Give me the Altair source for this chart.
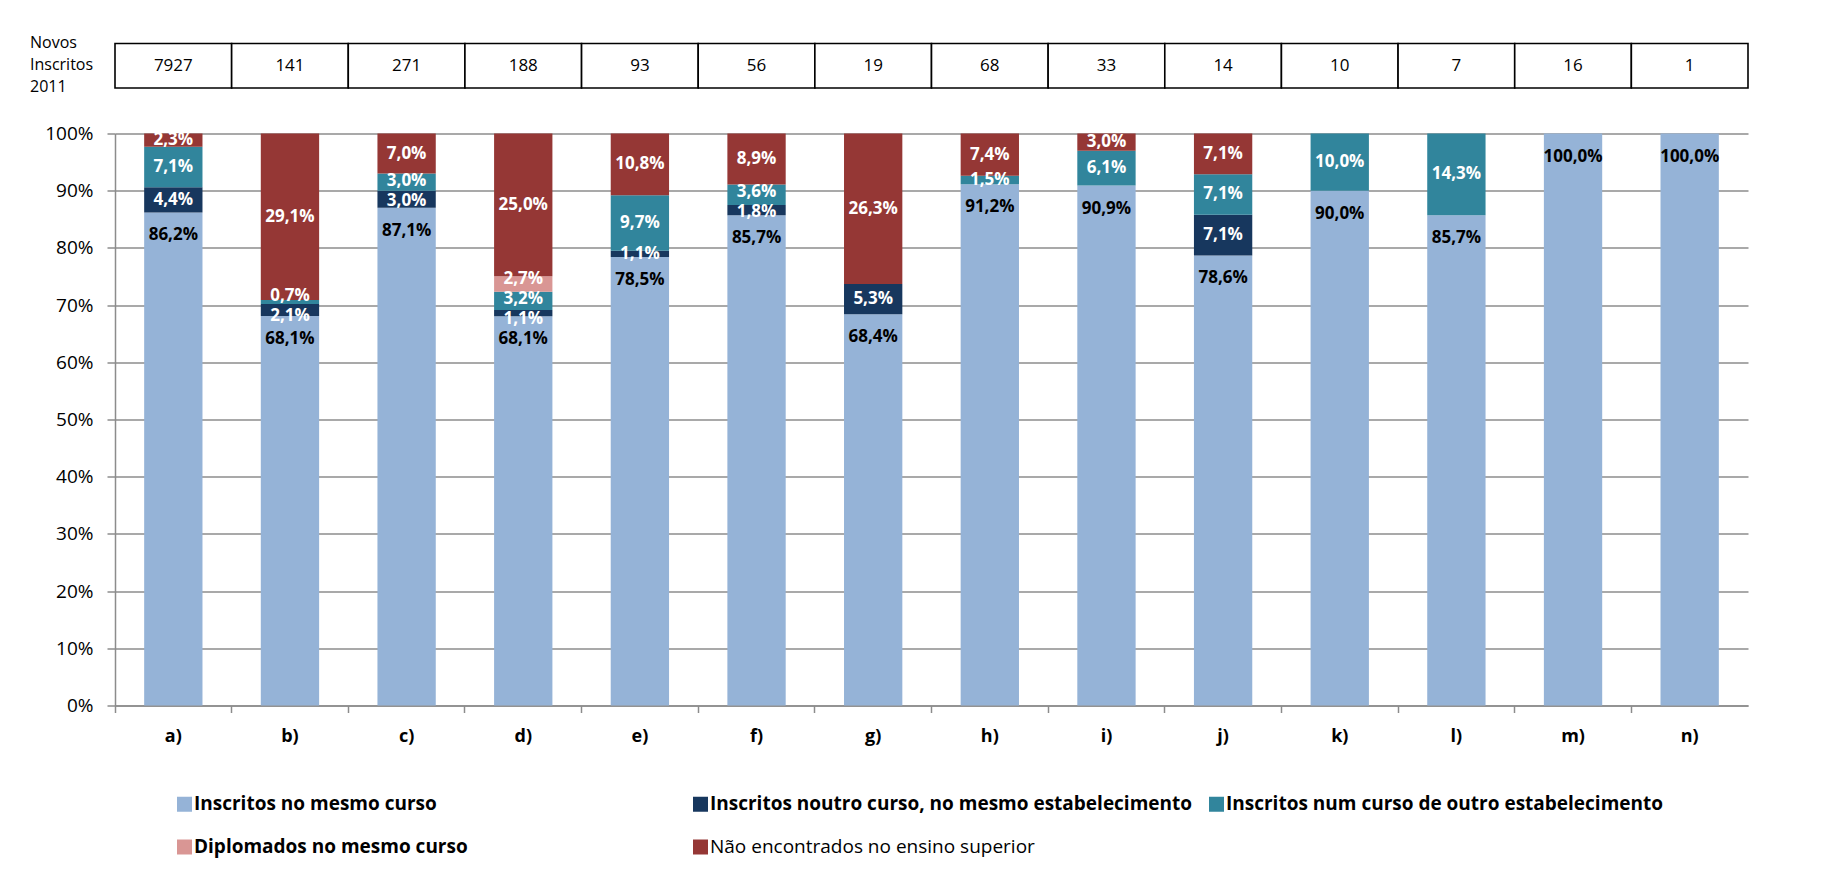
import altair as alt
import pandas as pd

categories = ["a)", "b)", "c)", "d)", "e)", "f)", "g)", "h)", "i)", "j)", "k)", "l)", "m)", "n)"]
novos_inscritos = [7927, 141, 271, 188, 93, 56, 19, 68, 33, 14, 10, 7, 16, 1]

series_names = [
    "Inscritos no mesmo curso",
    "Inscritos noutro curso, no mesmo estabelecimento",
    "Inscritos num curso de outro estabelecimento",
    "Diplomados no mesmo curso",
    "Não encontrados no ensino superior",
]
mesmo_curso = [86.2, 68.1, 87.1, 68.1, 78.5, 85.7, 68.4, 91.2, 90.9, 78.6, 90.0, 85.7, 100.0, 100.0]
noutro_curso = [4.4, 2.1, 3.0, 1.1, 1.1, 1.8, 5.3, 0, 0, 7.1, 0, 0, 0, 0]
outro_estab = [7.1, 0.7, 3.0, 3.2, 9.7, 3.6, 0, 1.5, 6.1, 7.1, 10.0, 14.3, 0, 0]
diplomados = [0, 0, 0, 2.7, 0, 0, 0, 0, 0, 0, 0, 0, 0, 0]
nao_encontrados = [2.3, 29.1, 7.0, 25.0, 10.8, 8.9, 26.3, 7.4, 3.0, 7.1, 0, 0, 0, 0]
series_values = [mesmo_curso, noutro_curso, outro_estab, diplomados, nao_encontrados]
colors = ["#95B3D7", "#17375E", "#31859C", "#D99694", "#953735"]

FONT = "Open Sans"
GRID = "#8C8C8C"
LABEL_GAP = 0.035  # minimum vertical distance between stacked segment labels (fraction of axis)


def fmt(v):
    return f"{v:.1f}".replace(".", ",") + "%"


def spread(centers, gap):
    """Spread label centres symmetrically so that neighbours are at least `gap` apart."""
    clusters = [[c] for c in centers]
    changed = True
    while changed:
        changed = False
        for k in range(len(clusters) - 1):
            a, b = clusters[k], clusters[k + 1]
            ca, cb = sum(a) / len(a), sum(b) / len(b)
            hi_a = ca + (len(a) - 1) * gap / 2
            lo_b = cb - (len(b) - 1) * gap / 2
            if lo_b - hi_a < gap - 1e-9:
                clusters[k] = a + b
                del clusters[k + 1]
                changed = True
                break
    out = []
    for cl in clusters:
        c = sum(cl) / len(cl)
        n = len(cl)
        out += [c + (i - (n - 1) / 2) * gap for i in range(n)]
    return out


rows = []
for i, c in enumerate(categories):
    vals = [s[i] for s in series_values]
    total = sum(vals)
    cum = 0.0
    cat_rows = []
    for j, v in enumerate(vals):
        frac = v / total
        if v > 0:
            cat_rows.append(dict(cat=c, serie=series_names[j], idx=j, y0=cum, y1=cum + frac,
                                 mid=cum + frac / 2, label=fmt(v)))
        cum += frac
    others = [r for r in cat_rows if r["idx"] > 0]
    pos = spread([r["mid"] for r in others], LABEL_GAP)
    for r, p in zip(others, pos):
        r["lab_y"] = p
    for r in cat_rows:
        if r["idx"] == 0:
            r["lab_y"] = r["y1"]
    rows += cat_rows
df = pd.DataFrame(rows)
tdf = pd.DataFrame({"cat": categories, "novos": [str(n) for n in novos_inscritos]})

xenc = alt.X(
    "cat:N", sort=categories,
    scale=alt.Scale(paddingInner=0, paddingOuter=0),
    axis=alt.Axis(title=None, labelAngle=0, labelFont=FONT, labelFontSize=18, labelFontWeight="bold",
                  labelColor="black", bandPosition=0, tickSize=7, tickColor=GRID,
                  tickWidth=1.5, domainColor=GRID, domainWidth=1.5, labelPadding=15, grid=False),
)

bars = alt.Chart(df).mark_bar(width=alt.RelativeBandSize(0.5)).encode(
    x=xenc,
    y=alt.Y("y0:Q", scale=alt.Scale(domain=[0, 1], nice=False),
            axis=alt.Axis(title=None, values=[i / 10 for i in range(11)], format=".0%",
                          labelFont=FONT, labelFontSize=19, labelColor="black", labelPadding=14,
                          tickSize=8, tickColor=GRID, tickWidth=1.5, domainColor=GRID, domainWidth=1.5,
                          grid=True, gridColor=GRID, gridWidth=1.5)),
    y2="y1:Q",
    color=alt.Color(
        "serie:N",
        scale=alt.Scale(domain=series_names, range=colors),
        legend=alt.Legend(
            title=None, orient="none", legendX=60, legendY=661, direction="horizontal", columns=3,
            symbolType="square", symbolSize=225, symbolStrokeWidth=0, labelFont=FONT, labelFontSize=19,
            labelFontWeight=alt.ExprRef("datum.label == 'Não encontrados no ensino superior' ? 'normal' : 'bold'"),
            labelColor="black", labelLimit=800, labelOffset=0, columnPadding=14, rowPadding=23,
            gridAlign="all", padding=0,
        ),
    ),
)

lab_blue = alt.Chart(df[df.idx == 0]).mark_text(
    dy=23, font=FONT, fontSize=17, fontWeight="bold", color="black", baseline="middle"
).encode(x=xenc, y="lab_y:Q", text="label:N")

lab_other = alt.Chart(df[df.idx > 0]).mark_text(
    font=FONT, fontSize=17, fontWeight="bold", color="white", baseline="middle"
).encode(x=xenc, y="lab_y:Q", text="label:N")

table = alt.Chart(tdf).mark_rect(fill="white", stroke="black", strokeWidth=1.6).encode(
    x=xenc, y=alt.value(-90), y2=alt.value(-45.5)
)
table_txt = alt.Chart(tdf).mark_text(font=FONT, fontSize=17, color="black", baseline="middle").encode(
    x=xenc, y=alt.value(-67.7), text="novos:N"
)
row_title = alt.Chart(pd.DataFrame({"t": ["Novos\nInscritos\n2011"]})).mark_text(
    font=FONT, fontSize=16, color="black", align="left", baseline="middle", lineBreak="\n", lineHeight=22
).encode(x=alt.value(-85), y=alt.value(-91), text="t:N")

chart = alt.layer(bars, lab_other, lab_blue, table, table_txt, row_title).properties(
    width=1633, height=572,
    padding={"left": 107, "top": 125.5, "right": 80, "bottom": 160},
    autosize=alt.AutoSizeParams(type="none"),
    background="white",
).configure_view(stroke=None)

chart.save("out.html", embed_options={"renderer": "svg", "actions": False})
